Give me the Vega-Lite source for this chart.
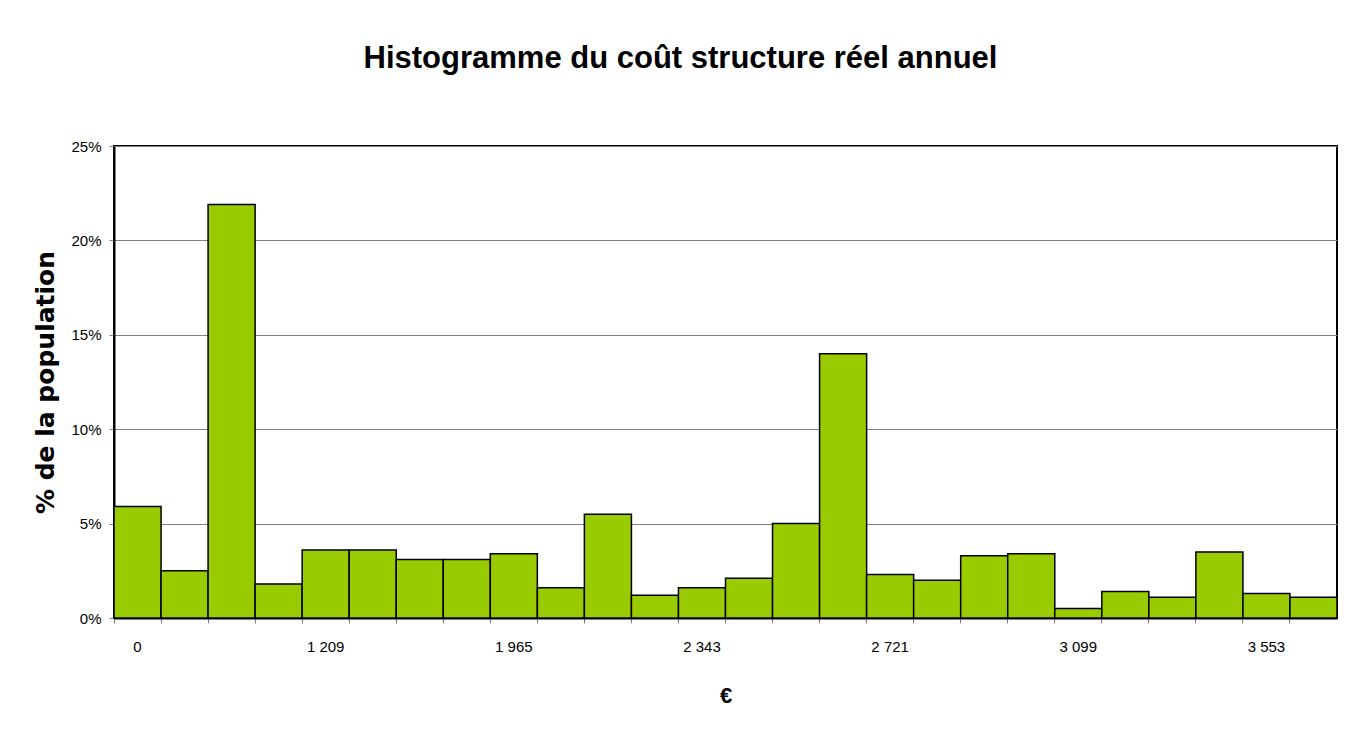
{
  "$schema": "https://vega.github.io/schema/vega-lite/v6.json",
  "width": 1223,
  "height": 472,
  "autosize": {"type": "none"},
  "padding": {"left": 114, "top": 146, "right": 22, "bottom": 122},
  "background": "white",
  "title": {
    "text": "Histogramme du coût structure réel annuel",
    "font": "Liberation Sans",
    "fontSize": 31,
    "fontWeight": "bold",
    "color": "#000000",
    "anchor": "middle",
    "frame": "group",
    "baseline": "alphabetic",
    "offset": 40,
    "dx": -45
  },
  "data": {
    "values": [
      {"bin": 0, "pct": 5.9},
      {"bin": 1, "pct": 2.5},
      {"bin": 2, "pct": 21.9},
      {"bin": 3, "pct": 1.8},
      {"bin": 4, "pct": 3.6},
      {"bin": 5, "pct": 3.6},
      {"bin": 6, "pct": 3.1},
      {"bin": 7, "pct": 3.1},
      {"bin": 8, "pct": 3.4},
      {"bin": 9, "pct": 1.6},
      {"bin": 10, "pct": 5.5},
      {"bin": 11, "pct": 1.2},
      {"bin": 12, "pct": 1.6},
      {"bin": 13, "pct": 2.1},
      {"bin": 14, "pct": 5.0},
      {"bin": 15, "pct": 14.0},
      {"bin": 16, "pct": 2.3},
      {"bin": 17, "pct": 2.0},
      {"bin": 18, "pct": 3.3},
      {"bin": 19, "pct": 3.4},
      {"bin": 20, "pct": 0.5},
      {"bin": 21, "pct": 1.4},
      {"bin": 22, "pct": 1.1},
      {"bin": 23, "pct": 3.5},
      {"bin": 24, "pct": 1.3},
      {"bin": 25, "pct": 1.1}
    ]
  },
  "mark": {"type": "bar", "fill": "#99CC00", "stroke": "#000000", "strokeWidth": 1.5},
  "encoding": {
    "x": {
      "field": "bin",
      "type": "ordinal",
      "sort": null,
      "scale": {"paddingInner": 0, "paddingOuter": 0},
      "axis": {
        "title": "€",
        "titleFont": "Liberation Sans",
        "titleFontSize": 22,
        "titleFontWeight": "bold",
        "titleColor": "#000000",
        "titlePadding": 31,
        "labelAngle": 0,
        "labelFont": "Liberation Sans",
        "labelFontSize": 15,
        "labelColor": "#000000",
        "labelPadding": 23,
        "labelOffset": 0,
        "labelBaseline": "middle",
        "labelExpr": "['0','','','','1 209','','','','1 965','','','','2 343','','','','2 721','','','','3 099','','','','3 553','',''][datum.value]",
        "bandPosition": 0,
        "ticks": true,
        "tickSize": 5,
        "tickColor": "#808080",
        "tickWidth": 1,
        "domain": true,
        "domainColor": "#000000",
        "domainWidth": 2,
        "grid": false
      }
    },
    "y": {
      "field": "pct",
      "type": "quantitative",
      "scale": {"domain": [0, 25], "nice": false, "zero": true},
      "axis": {
        "title": "% de la population",
        "titleFont": "DejaVu Sans",
        "titleFontSize": 25,
        "titleFontWeight": "bold",
        "titleColor": "#000000",
        "titlePadding": 12,
        "values": [0, 5, 10, 15, 20, 25],
        "labelExpr": "datum.value + '%'",
        "labelFont": "Liberation Sans",
        "labelFontSize": 15,
        "labelColor": "#000000",
        "labelPadding": 8,
        "tickSize": 5,
        "tickColor": "#808080",
        "domain": true,
        "domainColor": "#000000",
        "domainWidth": 2,
        "grid": true,
        "gridColor": "#808080",
        "gridWidth": 1
      }
    }
  },
  "config": {
    "view": {"stroke": "#000000", "strokeWidth": 2}
  }
}
